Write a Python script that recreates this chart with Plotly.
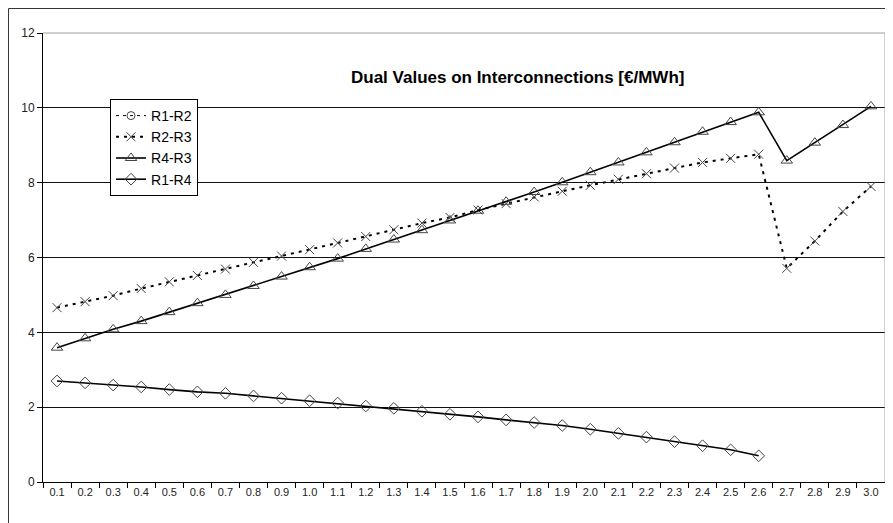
import plotly.graph_objects as go

categories = ["0.1", "0.2", "0.3", "0.4", "0.5", "0.6", "0.7", "0.8", "0.9", "1.0",
              "1.1", "1.2", "1.3", "1.4", "1.5", "1.6", "1.7", "1.8", "1.9", "2.0",
              "2.1", "2.2", "2.3", "2.4", "2.5", "2.6", "2.7", "2.8", "2.9", "3.0"]

r1_r2 = [None] * 30

r2_r3 = [4.66, 4.82, 4.98, 5.17, 5.35, 5.52, 5.69, 5.87, 6.04, 6.21,
         6.39, 6.56, 6.74, 6.92, 7.07, 7.27, 7.44, 7.62, 7.77, 7.93,
         8.09, 8.24, 8.39, 8.54, 8.65, 8.76, 5.71, 6.44, 7.23, 7.90]

r4_r3 = [3.59, 3.84, 4.08, 4.30, 4.54, 4.78, 5.00, 5.24, 5.49, 5.74,
         5.97, 6.23, 6.48, 6.73, 6.99, 7.25, 7.49, 7.75, 8.01, 8.28,
         8.54, 8.81, 9.08, 9.36, 9.62, 9.88, 8.59, 9.07, 9.54, 10.04]

r1_r4 = [2.70, 2.65, 2.59, 2.54, 2.47, 2.41, 2.37, 2.30, 2.24, 2.17,
         2.11, 2.03, 1.97, 1.89, 1.81, 1.74, 1.66, 1.59, 1.51, 1.41,
         1.30, 1.20, 1.08, 0.97, 0.86, 0.70, None, None, None, None]

y_ticks = [0, 2, 4, 6, 8, 10, 12]

FONT = "Liberation Sans, Arial, sans-serif"
MK = "#444444"

fig = go.Figure()

fig.add_trace(go.Scatter(
    x=categories, y=r1_r2, name="R1-R2", mode="lines+markers",
    legendgroup="a",
    line=dict(color="black", width=1, dash="3px,4px"),
    marker=dict(symbol="circle-open", size=8, color=MK, line=dict(width=1, color=MK)),
))
fig.add_trace(go.Scatter(
    x=categories, y=r2_r3, name="R2-R3", mode="lines+markers",
    legendgroup="b",
    line=dict(color="black", width=2, dash="3px,5px"),
    marker=dict(symbol="x-thin-open", size=9, color=MK, line=dict(width=1, color=MK)),
))
fig.add_trace(go.Scatter(
    x=categories, y=r4_r3, name="R4-R3", mode="lines+markers",
    legendgroup="c",
    line=dict(color="black", width=1.6),
    marker=dict(symbol="triangle-up-open", size=10, color=MK, line=dict(width=1, color=MK)),
))
fig.add_trace(go.Scatter(
    x=categories, y=r1_r4, name="R1-R4", mode="lines+markers",
    legendgroup="d",
    line=dict(color="black", width=1.6),
    marker=dict(symbol="diamond-open", size=9, color=MK, line=dict(width=1, color=MK)),
))

# the page body adds an 8px offset, so the figure is sized/margined to land at
# the reference positions on screen
fig.update_layout(
    width=885, height=515,
    margin=dict(l=35, r=8, t=25, b=41),
    paper_bgcolor="white", plot_bgcolor="white",
    font=dict(family=FONT, size=11, color="#222222"),
    showlegend=True,
    legend=dict(
        x=0.0796, y=0.853, xanchor="left", yanchor="top",
        bgcolor="white", bordercolor="black", borderwidth=1,
        font=dict(family=FONT, size=14, color="black"),
        traceorder="grouped", tracegroupgap=0,
        itemwidth=30,
    ),
    xaxis=dict(
        type="category", categoryorder="array", categoryarray=categories,
        range=[-0.5, len(categories) - 0.5], autorange=False,
        tickson="boundaries", ticks="outside", ticklen=5, tickcolor="black",
        showline=True, linecolor="black", linewidth=1,
        showgrid=False, zeroline=False,
        tickfont=dict(family=FONT, size=11, color="#222222"),
    ),
    yaxis=dict(
        range=[0, 12], tickvals=y_ticks,
        ticks="outside", ticklen=5, tickcolor="black",
        showline=True, linecolor="black", linewidth=1,
        showgrid=True, gridcolor="#111111", gridwidth=1,
        zeroline=False,
        tickfont=dict(family=FONT, size=12, color="#222222"),
    ),
    annotations=[dict(
        text="<b>Dual Values on Interconnections [€/MWh]</b>",
        xref="paper", yref="paper", x=0.563, y=0.90,
        xanchor="center", yanchor="middle", showarrow=False,
        font=dict(family=FONT, size=17, color="black"),
    )],
    shapes=[
        dict(type="line", xref="paper", yref="paper", x0=0, x1=1, y0=1, y1=1,
             line=dict(color="#a0a0a0", width=1), layer="above"),
        dict(type="line", xref="paper", yref="paper", x0=1, x1=1, y0=0, y1=1,
             line=dict(color="#a0a0a0", width=1), layer="above"),
        dict(type="rect", xref="paper", yref="paper", x0=-0.041, x1=1.03,
             y0=-0.11, y1=1.0546, line=dict(color="#333333", width=1),
             fillcolor="rgba(0,0,0,0)", layer="below"),
    ],
)

fig.write_html("out.html")
